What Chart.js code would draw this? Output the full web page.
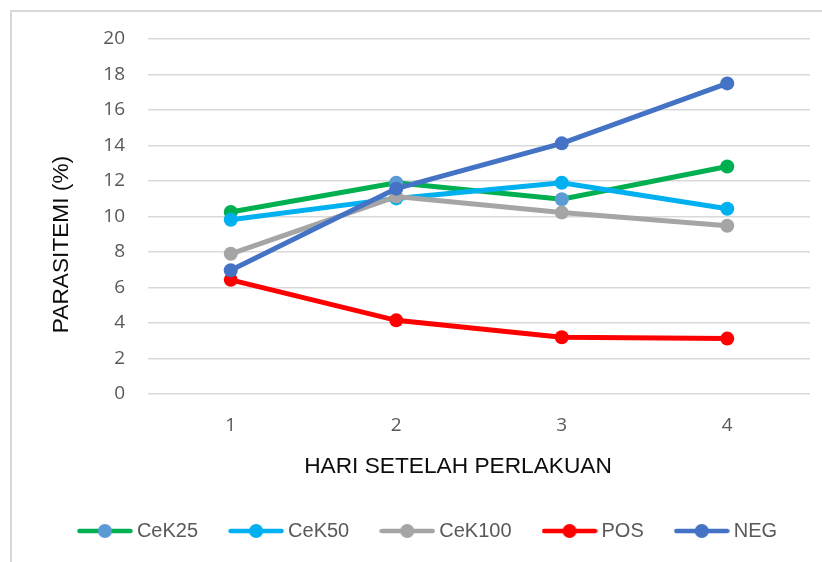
<!DOCTYPE html>
<html>
<head>
<meta charset="utf-8">
<script src="https://cdn.jsdelivr.net/npm/chart.js@4/dist/chart.umd.min.js"></script>
<style>
  html, body { margin: 0; padding: 0; background: #ffffff; }
  #wrap { width: 822px; height: 562px; position: relative; }
</style>
</head>
<body>
<div id="wrap"><canvas id="c" width="822" height="562"></canvas></div>
<script>
// ---- data ----
const days = ['1', '2', '3', '4'];
const seriesNames = ['CeK25', 'CeK50', 'CeK100', 'POS', 'NEG'];
const cek25 = [10.25, 11.9, 10.97, 12.82];
const cek50 = [9.82, 11.02, 11.9, 10.44];
const cek100 = [7.9, 11.12, 10.22, 9.48];
const pos = [6.43, 4.15, 3.2, 3.12];
const neg = [6.97, 11.57, 14.12, 17.5];
const yTicks = [0, 2, 4, 6, 8, 10, 12, 14, 16, 18, 20];
const xTitle = 'HARI SETELAH PERLAKUAN';
const yTitle = 'PARASITEMI (%)';

// ---- styles ----
const lineColors = ['#00B050', '#00B0F0', '#A5A5A5', '#FF0000', '#4472C4'];
const cek25Markers = ['#00B050', '#5B9BD5', '#5B9BD5', '#00B050'];
const legendMarkers = ['#5B9BD5', '#00B0F0', '#A5A5A5', '#FF0000', '#4472C4'];
const values = [cek25, cek50, cek100, pos, neg];

function makeIcon(lineColor, dotColor) {
  const c = document.createElement('canvas');
  c.width = 56; c.height = 18;
  const g = c.getContext('2d');
  g.strokeStyle = lineColor;
  g.lineWidth = 4.5;
  g.lineCap = 'round';
  g.beginPath(); g.moveTo(2.5, 9); g.lineTo(53.5, 9); g.stroke();
  g.fillStyle = dotColor;
  g.beginPath(); g.arc(28, 9, 7, 0, Math.PI * 2); g.fill();
  return c;
}
const icons = seriesNames.map((n, i) => makeIcon(lineColors[i], legendMarkers[i]));

const datasets = seriesNames.map((name, i) => ({
  label: name,
  data: values[i],
  borderColor: lineColors[i],
  backgroundColor: lineColors[i],
  pointBackgroundColor: i === 0 ? cek25Markers : lineColors[i],
  pointBorderColor: i === 0 ? cek25Markers : lineColors[i],
  pointBorderWidth: 0,
  pointRadius: 7,
  pointHoverRadius: 7,
  borderWidth: 5,
  tension: 0,
  fill: false,
  order: seriesNames.length - 1 - i
}));

const framePlugin = {
  id: 'frame',
  beforeDraw(chart) {
    const ctx = chart.ctx;
    ctx.save();
    ctx.fillStyle = '#ffffff';
    ctx.fillRect(0, 0, chart.width, chart.height);
    ctx.strokeStyle = '#d9d9d9';
    ctx.lineWidth = 2;
    ctx.beginPath();
    ctx.moveTo(11, chart.height);
    ctx.lineTo(11, 11);
    ctx.lineTo(chart.width, 11);
    ctx.stroke();
    ctx.restore();
  }
};

// axis titles, placed as in the reference (offset from the plot centre)
const titlePlugin = {
  id: 'axisTitles',
  afterDraw(chart) {
    const ca = chart.chartArea;
    const ctx = chart.ctx;
    ctx.save();
    ctx.font = '22.7px "Liberation Sans"';
    ctx.fillStyle = '#0d0d0d';
    ctx.textAlign = 'center';
    ctx.textBaseline = 'middle';
    ctx.fillText(xTitle, (ca.left + ca.right) / 2 - 21, ca.bottom + 73);
    ctx.translate(ca.left - 86, (ca.top + ca.bottom) / 2 + 28);
    ctx.rotate(-Math.PI / 2);
    ctx.fillText(yTitle, 0, 0);
    ctx.restore();
  }
};

new Chart(document.getElementById('c'), {
  type: 'line',
  data: { labels: days, datasets: datasets },
  plugins: [framePlugin, titlePlugin],
  options: {
    responsive: false,
    animation: false,
    devicePixelRatio: 1,
    layout: { padding: { left: 38, right: 0, top: 39, bottom: 11 } },
    plugins: {
      tooltip: { enabled: false },
      legend: {
        position: 'bottom',
        maxHeight: 78,
        labels: {
          usePointStyle: true,
          pointStyleWidth: 44,
          boxHeight: 20,
          padding: 36,
          color: '#595959',
          font: { family: 'Liberation Sans', size: 20 },
          generateLabels(chart) {
            return chart.data.datasets.map((ds, i) => ({
              text: ds.label,
              fillStyle: lineColors[i],
              strokeStyle: lineColors[i],
              lineWidth: 0,
              pointStyle: icons[i],
              fontColor: '#595959',
              hidden: !chart.isDatasetVisible(i),
              datasetIndex: i
            }));
          }
        }
      }
    },
    scales: {
      x: {
        type: 'category',
        offset: true,
        grid: { display: false, drawTicks: false },
        border: { display: false },
        ticks: { padding: 20, color: '#595959', font: { family: 'Open Sans', size: 19 } },
        title: { display: false },
        afterFit(scale) { scale.height = 91; }
      },
      y: {
        min: 0,
        max: 20,
        afterBuildTicks(scale) { scale.ticks = yTicks.map(v => ({ value: v })); },
        grid: { color: '#d9d9d9', lineWidth: 1.5, drawTicks: false },
        border: { display: false },
        ticks: { padding: 23, color: '#595959', font: { family: 'Open Sans', size: 19 } },
        title: { display: false },
        afterFit(scale) { scale.width = 110; }
      },
      yRight: {
        position: 'right',
        display: true,
        grid: { display: false, drawTicks: false },
        border: { display: false },
        ticks: { display: false },
        afterFit(scale) { scale.width = 12; }
      }
    }
  }
});
</script>
</body>
</html>
